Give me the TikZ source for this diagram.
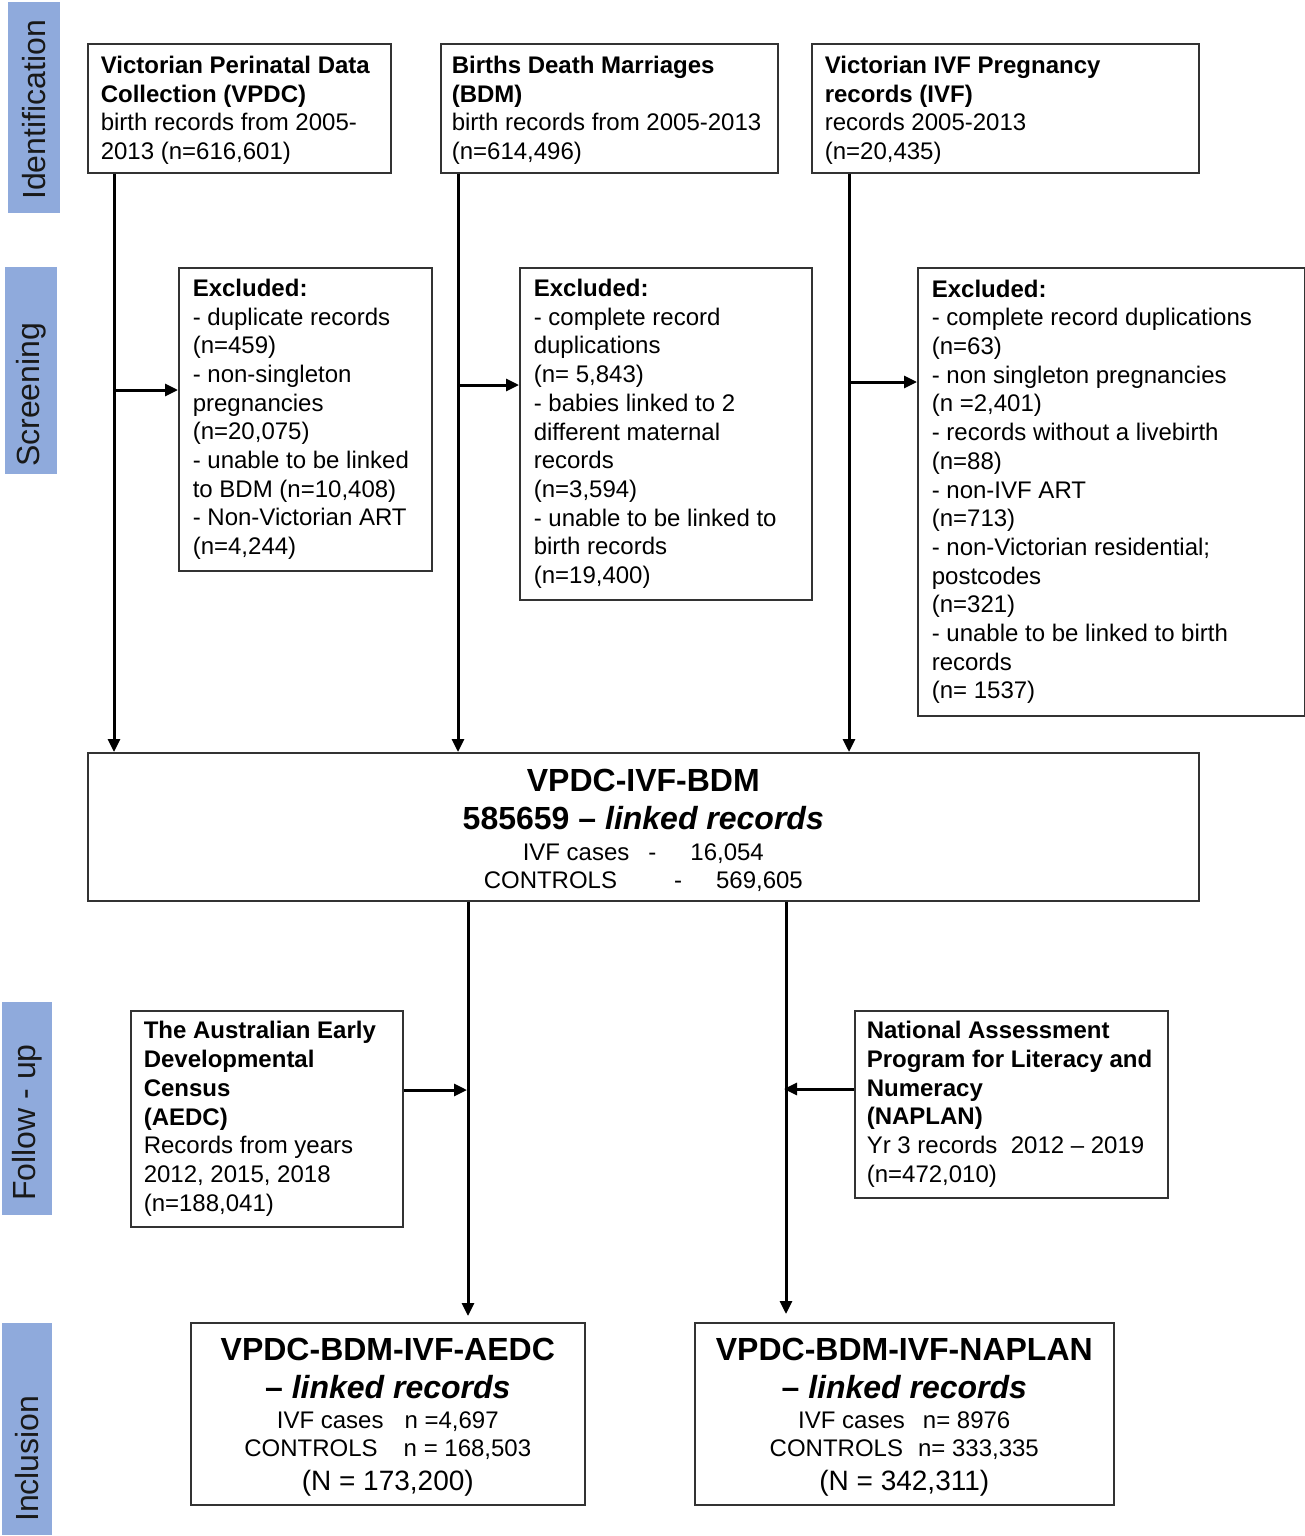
\documentclass[tikz,border=0pt]{standalone}
\usepackage{fontspec}
\setmainfont{Liberation Sans}
\usetikzlibrary{arrows.meta}
\definecolor{sidecol}{HTML}{8FAADC}
\definecolor{edge}{HTML}{333333}
\newcommand\fsz[2]{\fontsize{#1}{#2}\selectfont\spaceskip=\fontdimen2\font\relax}
\newcommand\lift[1]{\rule{0pt}{#1}}
\begin{document}
\begin{tikzpicture}[x=1pt,y=-1pt,
  box/.style={draw=edge, line width=1.6pt, anchor=north west, align=left,
    inner xsep=13pt, inner ysep=0pt, font=\fsz{24}{28.7},
    execute at begin node={\spaceskip=\fontdimen2\font\relax}},
  cbox/.style={draw=edge, line width=1.6pt, anchor=north west, align=center,
    inner xsep=10pt, inner ysep=0pt, font=\fsz{24}{28.7},
    execute at begin node={\spaceskip=\fontdimen2\font\relax}},
  arr/.style={line width=3pt, -{Triangle[length=13pt,width=12pt]}},
  strip/.style={fill=sidecol, inner sep=0pt},
  sidetext/.style={rotate=90, anchor=west, inner sep=0pt, text=black!90,
    font=\fsz{32}{38}},
]
\useasboundingbox (0,0) rectangle (1305,1536);

% side labels
\node[strip, anchor=north west, minimum width=52pt, minimum height=211pt] (sid) at (8,2) {};
\node[sidetext] (tid) at (34,200) {Identification};
\node[strip, anchor=north west, minimum width=52pt, minimum height=207pt] (sscr) at (5,267) {};
\node[sidetext] (tscr) at (31,467) {Screening};
\node[strip, anchor=north west, minimum width=50pt, minimum height=213pt] (sfol) at (2,1002) {};
\node[sidetext] (tfol) at (27,1201) {Follow - up};
\node[strip, anchor=north west, minimum width=50pt, minimum height=212pt] (sinc) at (2,1323) {};
\node[sidetext] (tinc) at (27,1522) {Inclusion};

% identification boxes
\node[box, minimum height=129pt, text width=277pt] (vpdc) at (87,43)
  {\lift{21.5pt}\textbf{Victorian Perinatal Data}\\\textbf{Collection (VPDC)}\\birth records from 2005-\\2013 (n=616,601)};
\node[box, inner xsep=11pt, minimum height=129pt, text width=315pt] (bdm) at (440,43)
  {\lift{21.5pt}\textbf{Births Death Marriages}\\\textbf{(BDM)}\\birth records from 2005-2013\\(n=614,496)};
\node[box, minimum height=129pt, text width=361pt] (ivf) at (811,43)
  {\lift{21.5pt}\textbf{Victorian IVF Pregnancy}\\\textbf{records (IVF)}\\records 2005-2013\\(n=20,435)};

% exclusion boxes
\node[box, inner xsep=14pt, minimum height=303pt, text width=225pt] (ex1) at (178,267)
  {\textbf{Excluded:}\\- duplicate records\\(n=459)\\- non-singleton\\pregnancies\\(n=20,075)\\- unable to be linked\\to BDM (n=10,408)\\- Non-Victorian ART\\(n=4,244)};
\node[box, inner xsep=14pt, minimum height=332pt, text width=264pt] (ex2) at (519,267)
  {\textbf{Excluded:}\\- complete record\\duplications\\(n= 5,843)\\- babies linked to 2\\different maternal\\records\\(n=3,594)\\- unable to be linked to\\birth records\\(n=19,400)};
\node[box, inner xsep=14pt, minimum height=448pt, text width=359pt] (ex3) at (917,267)
  {\textbf{Excluded:}\\- complete record duplications\\(n=63)\\- non singleton pregnancies\\(n =2,401)\\- records without a livebirth\\(n=88)\\- non-IVF ART\\(n=713)\\- non-Victorian residential;\\postcodes\\(n=321)\\- unable to be linked to birth\\records\\(n= 1537)};

% main linked box
\node[cbox, minimum height=148pt, text width=1091pt] (main) at (87,752)
  {{\fsz{32}{38}\bfseries\lift{29pt}VPDC-IVF-BDM\par}
   {\fsz{32}{38}\bfseries 585659 – \textit{linked records}\par}
   {\fsz{24}{31}IVF cases\hspace{19pt}-\hspace{34pt}16,054\par}
   {\fsz{24}{28.5}CONTROLS\hspace{57pt}-\hspace{34pt}569,605\par}};

% follow-up boxes
\node[box, minimum height=216pt, text width=246pt] (aedc) at (130,1010)
  {\textbf{The Australian Early}\\\textbf{Developmental}\\\textbf{Census}\\\textbf{(AEDC)}\\Records from years\\2012, 2015, 2018\\(n=188,041)};
\node[box, inner xsep=12pt, minimum height=187pt, text width=289pt] (naplan) at (854,1010)
  {\textbf{National Assessment}\\\textbf{Program for Literacy and}\\\textbf{Numeracy}\\\textbf{(NAPLAN)}\\Yr 3 records\ \ 2012 – 2019\\(n=472,010)};

% inclusion boxes
\node[cbox, minimum height=182pt, text width=374pt] (out1) at (190,1322)
  {{\fsz{32}{38}\bfseries\lift{29pt}VPDC-BDM-IVF-AEDC\par}
   {\fsz{32}{38}\bfseries – \textit{linked records}\par}
   {\fsz{24}{30.5}IVF cases\hspace{21pt}n =4,697\par}
   {\fsz{24}{28}CONTROLS\hspace{26pt}n = 168,503\par}
   {\fsz{28}{33.5}(N = 173,200)\par}};
\node[cbox, minimum height=182pt, text width=399pt] (out2) at (694,1322)
  {{\fsz{32}{38}\bfseries\lift{29pt}VPDC-BDM-IVF-NAPLAN\par}
   {\fsz{32}{38}\bfseries – \textit{linked records}\par}
   {\fsz{24}{30.5}IVF cases\hspace{18pt}n= 8976\par}
   {\fsz{24}{28}CONTROLS\hspace{15pt}n= 333,335\par}
   {\fsz{28}{33.5}(N = 342,311)\par}};

% branch points
\coordinate (b1) at (114,390);
\coordinate (b2) at (458,385);
\coordinate (b3) at (849,382);
\coordinate (m1) at (468,1090);
\coordinate (m2) at (786,1089);

% vertical arrows into main
\draw[arr] ([xshift=27pt]vpdc.south west) -- ([xshift=27pt]vpdc.south west |- main.north);
\draw[arr] ([xshift=18pt]bdm.south west) -- ([xshift=18pt]bdm.south west |- main.north);
\draw[arr] ([xshift=38pt]ivf.south west) -- ([xshift=38pt]ivf.south west |- main.north);
% exclusion branches
\draw[arr] (b1) -- (b1 -| ex1.west);
\draw[arr] (b2) -- (b2 -| ex2.west);
\draw[arr] (b3) -- (b3 -| ex3.west);
% main to inclusion
\draw[arr, shorten >=6pt] (m1 |- main.south) -- (m1 |- out1.north);
\draw[arr, shorten >=8pt] (m2 |- main.south) -- (m2 |- out2.north);
% follow-up joins
\draw[arr, shorten >=1pt] (m1 -| aedc.east) -- (m1);
\draw[arr, shorten >=-2pt] (m2 -| naplan.west) -- (m2);
\end{tikzpicture}
\end{document}
